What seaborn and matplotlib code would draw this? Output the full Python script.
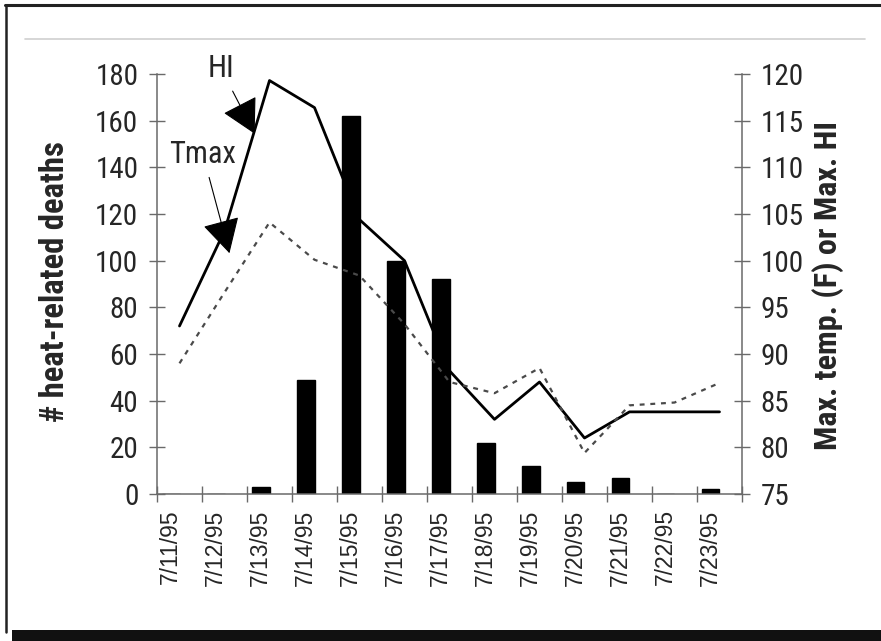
import numpy as np
import pandas as pd
import matplotlib
matplotlib.use("Agg")
import matplotlib.pyplot as plt
import matplotlib.font_manager as fm
from matplotlib.lines import Line2D
from matplotlib.patches import Rectangle
from matplotlib.ticker import FixedLocator
import seaborn as sns

# ---- data ----
dates = ["7/11/95", "7/12/95", "7/13/95", "7/14/95", "7/15/95", "7/16/95", "7/17/95",
         "7/18/95", "7/19/95", "7/20/95", "7/21/95", "7/22/95", "7/23/95"]
deaths = [0, 0, 3, 49, 162, 100, 92, 22, 12, 5, 7, 0, 2]
heat_index = [93, 103.2, 119.3, 116.4, 104.4, 100, 88.2, 83, 87, 81, 83.8, 83.8, 83.8]
tmax = [89, 96.6, 104.1, 100.1, 98.4, 93.2, 87, 85.8, 88.5, 79.4, 84.5, 84.8, 86.9]
left_ticks = list(range(0, 181, 20))
right_ticks = list(range(75, 121, 5))

sns.set_style("white")
names = {f.name for f in fm.fontManager.ttflist}
cond = next((n for n in ["Liberation Sans Narrow", "Roboto Condensed", "DejaVu Sans Condensed"] if n in names), "DejaVu Sans")
reg = "Liberation Sans" if "Liberation Sans" in names else "DejaVu Sans"
plt.rcParams["font.family"] = [reg, "DejaVu Sans"]

W, H = 881, 641
fig = plt.figure(figsize=(W / 100, H / 100), dpi=100)
ax = fig.add_axes([157 / W, 1 - 494 / H, (742 - 157) / W, (494 - 74) / H])

df = pd.DataFrame({"date": dates, "deaths": deaths, "hi": heat_index, "tmax": tmax})
pos = np.arange(len(dates))
df["linepos"] = pos + 0.2

sns.barplot(data=df, x="date", y="deaths", color="black", width=0.4,
            saturation=1, ax=ax, zorder=2)
for p in ax.patches:
    p.set_edgecolor("black")

ax2 = ax.twinx()
sns.lineplot(data=df, x="linepos", y="hi", color="black", lw=2.0, ax=ax2, zorder=3)
sns.lineplot(data=df, x="linepos", y="tmax", color="#4a4a4a", lw=1.6, ax=ax2,
             zorder=3, dashes=False, linestyle=(0, (2.2, 2.6)))

ax.set_xlim(-0.3, len(dates) - 0.3)
ax2.set_xlim(-0.3, len(dates) - 0.3)
ax.set_ylim(0, 180)
ax2.set_ylim(75, 120)

spine_c = "#6a6a6a"
for a in (ax, ax2):
    for s in a.spines.values():
        s.set_color(spine_c)
        s.set_linewidth(1.1)
    a.spines["top"].set_visible(False)
ax.spines["right"].set_visible(False)
ax2.spines["left"].set_visible(False)
ax2.spines["bottom"].set_visible(False)

tick_font = dict(fontfamily=[cond, "DejaVu Sans"], fontsize=21, fontweight="normal")
ax.set_yticks(left_ticks)
ax.set_yticklabels([str(t) for t in left_ticks], **tick_font)
ax2.set_yticks(right_ticks)
ax2.set_yticklabels([str(t) for t in right_ticks], **tick_font)
ax.tick_params(axis="y", direction="inout", length=11, width=1, color=spine_c, pad=8, left=True)
ax2.tick_params(axis="y", direction="inout", length=11, width=1, color=spine_c, pad=8, right=True)

ax.set_xticks(pos)
ax.set_xticklabels(dates, rotation=90, fontsize=16.5, fontfamily=[reg, "DejaVu Sans"])
ax.tick_params(axis="x", which="major", length=0, pad=11)
ax.xaxis.set_minor_locator(FixedLocator(np.arange(len(dates) + 1) - 0.3))
ax.tick_params(axis="x", which="minor", direction="inout", length=11, width=1,
               color=spine_c, bottom=True)

ax.set_xlabel("")
ax.set_ylabel("")
ax2.set_xlabel("")
ax2.set_ylabel("")

fig.text(55 / W, 1 - 282 / H, "# heat-related deaths", rotation=90, ha="center", va="center",
         fontsize=23.5, fontweight="bold", fontfamily=[cond, "DejaVu Sans"])
fig.text(828 / W, 1 - 285 / H, "Max. temp. (F) or Max. HI", rotation=90, ha="center",
         va="center", fontsize=23, fontweight="bold", fontfamily=[cond, "DejaVu Sans"])

# annotations with large filled arrow heads
astyle = "-|>,head_length=1.1,head_width=0.6"
ann_font = dict(fontsize=22, fontfamily=[cond, "DejaVu Sans"], fontweight="normal")
ax2.annotate("HI", xy=(1.87, 113.6), xytext=(1.12, 120.6), ha="center", va="center",
             arrowprops=dict(arrowstyle=astyle, mutation_scale=20, color="black",
                             lw=0.8, shrinkA=4, shrinkB=0), **ann_font)
ax2.annotate("Tmax", xy=(1.31, 100.8), xytext=(0.72, 111.4), ha="center", va="center",
             arrowprops=dict(arrowstyle=astyle, mutation_scale=20, color="black",
                             lw=0.8, shrinkA=4, shrinkB=0), **ann_font)

# scanned-page frame
fig.add_artist(Line2D([5 / W, 1], [1 - 5 / H, 1 - 5 / H], color="#222", lw=2.2))
fig.add_artist(Line2D([6 / W, 6 / W], [1 - 5 / H, 1 - 632 / H], color="#222", lw=1.8))
fig.add_artist(Line2D([25 / W, 865 / W], [1 - 39 / H, 1 - 39 / H], color="#cfcfcf", lw=1.2))
fig.add_artist(Rectangle((12 / W, 0), 1, 11 / H, transform=fig.transFigure,
                         color="#111", lw=0))

fig.savefig("out.png", dpi=100)
